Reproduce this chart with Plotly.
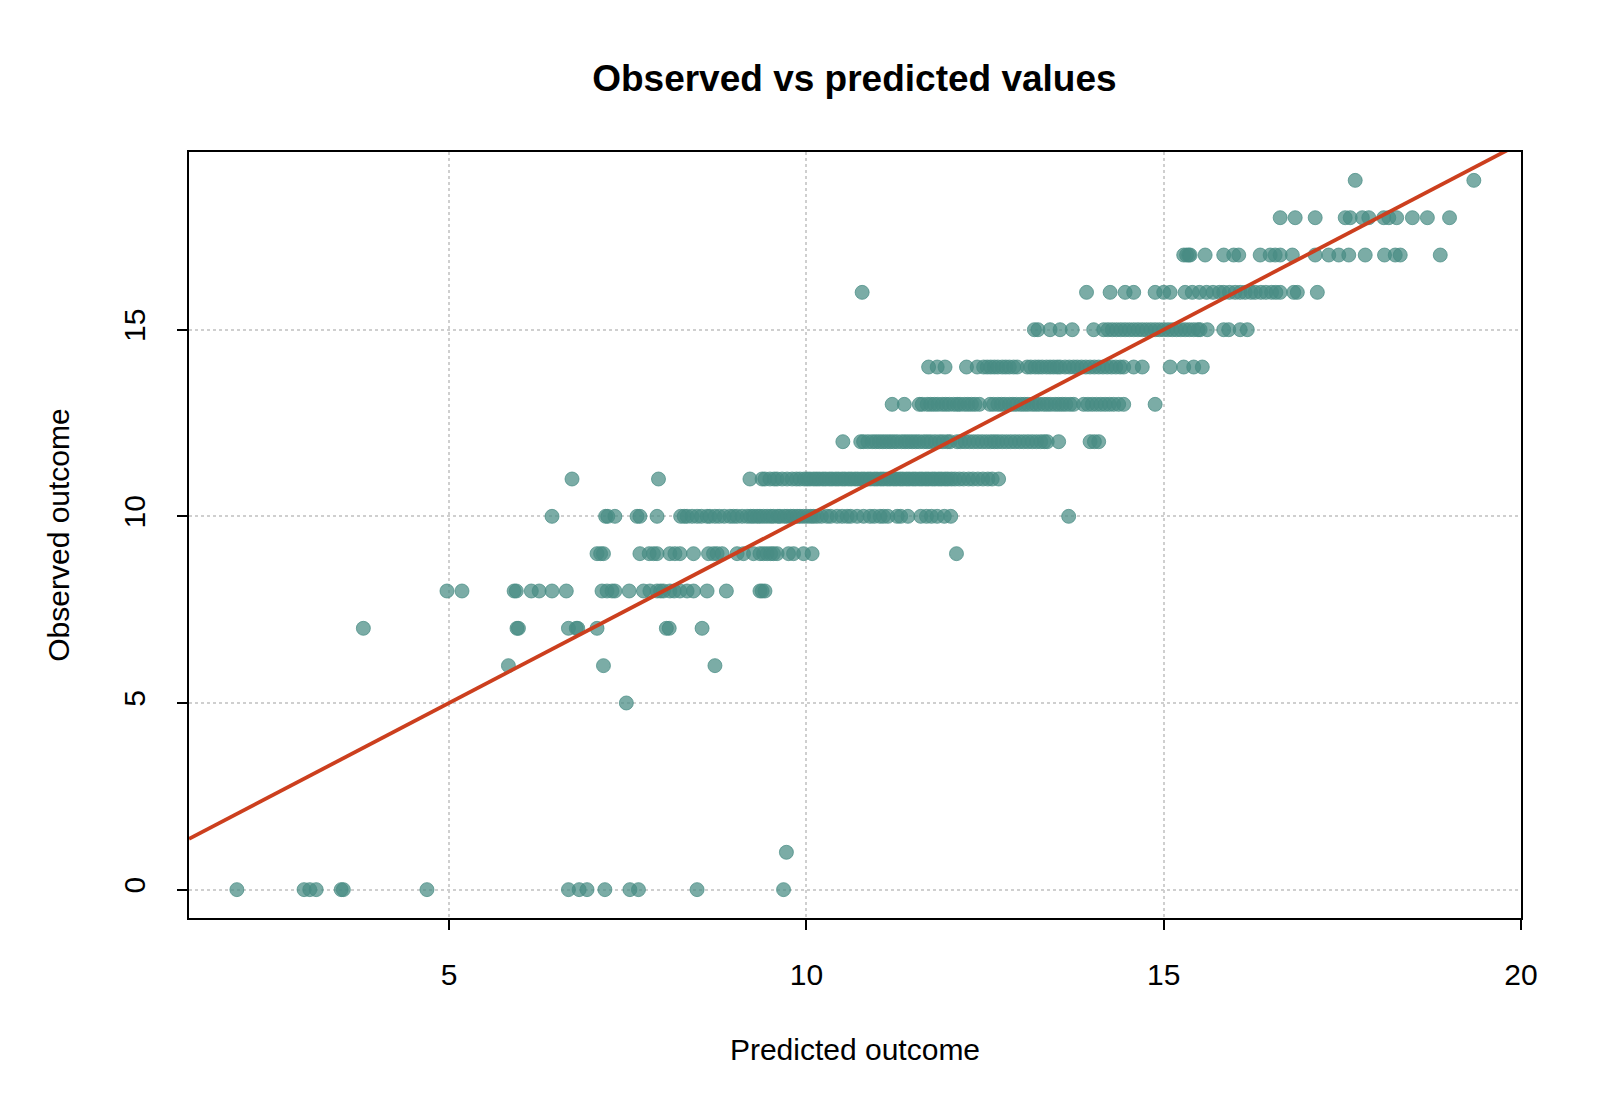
import plotly.graph_objects as go

# Predicted values grouped by observed outcome
pred_obs_0 = [2.03, 2.97, 3.05, 3.14, 3.49, 3.52, 4.69, 6.67, 6.82, 6.93, 7.18, 7.53, 7.65, 8.47, 9.68]
pred_obs_1 = [9.72]
pred_obs_5 = [7.48]
pred_obs_6 = [5.83, 7.16, 8.72]
pred_obs_7 = [3.80, 5.95, 5.97, 6.67, 6.78, 6.80, 7.07, 8.04, 8.08, 8.54]
pred_obs_8 = [4.97, 5.18, 5.91, 5.94, 6.15, 6.26, 6.44, 6.64, 7.14, 7.21, 7.28, 7.32, 7.52, 7.72,
              7.81, 7.91, 7.96, 8.00, 8.09, 8.15, 8.23, 8.33, 8.42, 8.61, 8.88, 9.35, 9.38, 9.42]
pred_obs_9 = [7.07, 7.12, 7.16, 7.67, 7.80, 7.86, 7.91, 8.09, 8.16, 8.23, 8.42, 8.63, 8.70, 8.75,
              8.82, 9.03, 9.12, 9.26, 9.35, 9.40, 9.45, 9.50, 9.54, 9.59, 9.75, 9.82, 9.96, 10.08, 12.10]
pred_obs_10 = [6.44, 7.19, 7.22, 7.32, 7.63, 7.67, 7.91, 8.24, 8.29, 8.33, 8.40, 8.47, 8.53, 8.61,
               8.65, 8.72, 8.78, 8.85, 8.93, 8.98, 9.03, 9.10, 9.17, 9.22, 9.26, 9.31, 9.35, 9.40,
               9.45, 9.50, 9.54, 9.60, 9.63, 9.69, 9.73, 9.78, 9.82, 9.87, 9.91, 9.96, 10.01, 10.06,
               10.10, 10.15, 10.21, 10.29, 10.34, 10.43, 10.50, 10.57, 10.62, 10.71, 10.80, 10.89,
               10.95, 11.03, 11.08, 11.14, 11.27, 11.32, 11.42, 11.60, 11.68, 11.75, 11.83, 11.93,
               12.02, 13.67]
pred_obs_11 = [6.72, 7.93, 9.21, 9.38, 9.42, 9.49, 9.55, 9.59, 9.66, 9.73, 9.80, 9.86, 9.91, 9.97,
               10.01, 10.05, 10.10, 10.14, 10.18, 10.23, 10.27, 10.32, 10.36, 10.41, 10.45, 10.50,
               10.54, 10.59, 10.63, 10.68, 10.72, 10.77, 10.81, 10.86, 10.90, 10.95, 10.99, 11.04,
               11.08, 11.13, 11.17, 11.22, 11.26, 11.31, 11.35, 11.40, 11.44, 11.49, 11.53, 11.58,
               11.62, 11.67, 11.71, 11.76, 11.80, 11.85, 11.89, 11.94, 11.98, 12.03, 12.08, 12.14,
               12.20, 12.27, 12.33, 12.40, 12.47, 12.54, 12.60, 12.69]
pred_obs_12 = [10.51, 10.76, 10.80, 10.86, 10.92, 10.97, 11.02, 11.07, 11.12, 11.17, 11.22, 11.27,
               11.33, 11.38, 11.43, 11.48, 11.53, 11.58, 11.64, 11.69, 11.74, 11.80, 11.86, 11.91,
               11.97, 12.01, 12.11, 12.16, 12.22, 12.28, 12.34, 12.40, 12.46, 12.52, 12.58, 12.63,
               12.68, 12.74, 12.80, 12.86, 12.92, 12.98, 13.04, 13.10, 13.16, 13.22, 13.28, 13.33,
               13.37, 13.53, 13.97, 14.03, 14.09]
pred_obs_13 = [11.20, 11.37, 11.58, 11.62, 11.69, 11.74, 11.79, 11.84, 11.90, 11.95, 12.00, 12.06,
               12.11, 12.15, 12.21, 12.26, 12.31, 12.36, 12.42, 12.57, 12.62, 12.68, 12.73, 12.78,
               12.84, 12.89, 12.94, 13.00, 13.05, 13.10, 13.16, 13.21, 13.26, 13.32, 13.37, 13.42,
               13.48, 13.53, 13.58, 13.63, 13.69, 13.74, 13.88, 13.94, 14.00, 14.06, 14.12, 14.18,
               14.24, 14.30, 14.37, 14.44, 14.88]
pred_obs_14 = [11.71, 11.83, 11.94, 12.24, 12.39, 12.48, 12.53, 12.58, 12.63, 12.68, 12.74, 12.79,
               12.84, 12.90, 12.95, 13.09, 13.14, 13.20, 13.25, 13.30, 13.36, 13.41, 13.46, 13.51,
               13.55, 13.62, 13.68, 13.74, 13.79, 13.85, 13.91, 13.97, 14.03, 14.09, 14.15, 14.21,
               14.27, 14.33, 14.39, 14.44, 14.58, 14.70, 15.09, 15.28, 15.42, 15.54]
pred_obs_15 = [13.19, 13.24, 13.41, 13.55, 13.72, 14.02, 14.16, 14.22, 14.28, 14.34, 14.40, 14.46,
               14.52, 14.58, 14.64, 14.70, 14.76, 14.82, 14.88, 14.94, 15.00, 15.06, 15.12, 15.18,
               15.24, 15.30, 15.36, 15.42, 15.48, 15.51, 15.61, 15.84, 15.91, 16.07, 16.17]
pred_obs_16 = [10.78, 13.92, 14.25, 14.46, 14.58, 14.88, 15.00, 15.09, 15.30, 15.40, 15.50, 15.60,
               15.69, 15.78, 15.84, 15.92, 16.00, 16.07, 16.14, 16.22, 16.28, 16.36, 16.43, 16.51,
               16.57, 16.63, 16.82, 16.87, 17.15]
pred_obs_17 = [15.28, 15.32, 15.35, 15.37, 15.58, 15.84, 15.98, 16.05, 16.35, 16.49, 16.56, 16.63,
               16.80, 17.12, 17.31, 17.45, 17.59, 17.82, 18.09, 18.24, 18.31, 18.87]
pred_obs_18 = [16.63, 16.84, 17.12, 17.54, 17.61, 17.78, 17.87, 18.08, 18.15, 18.26, 18.48, 18.69, 19.00]
pred_obs_19 = [17.68, 19.34]

groups = {
    0: pred_obs_0, 1: pred_obs_1, 5: pred_obs_5, 6: pred_obs_6, 7: pred_obs_7, 8: pred_obs_8,
    9: pred_obs_9, 10: pred_obs_10, 11: pred_obs_11, 12: pred_obs_12, 13: pred_obs_13,
    14: pred_obs_14, 15: pred_obs_15, 16: pred_obs_16, 17: pred_obs_17, 18: pred_obs_18,
    19: pred_obs_19,
}

x_ticks = [5, 10, 15, 20]
y_ticks = [0, 5, 10, 15]
x_range = [1.36, 20.0]
y_range = [-0.76, 19.76]
ref_line_x = [1.36, 20.0]  # identity line y = x

predicted = []
observed = []
for obs, preds in groups.items():
    predicted.extend(preds)
    observed.extend([obs] * len(preds))

FONT = "Liberation Sans, Arial, sans-serif"
pt_color = "rgba(72,140,132,0.72)"

fig = go.Figure()
fig.add_trace(go.Scatter(
    x=predicted, y=observed, mode="markers",
    marker=dict(size=14, color=pt_color, line=dict(width=1, color=pt_color)),
    showlegend=False, hoverinfo="x+y",
))
fig.add_trace(go.Scatter(
    x=ref_line_x, y=ref_line_x, mode="lines",
    line=dict(color="#CC3F1E", width=3.8), showlegend=False, hoverinfo="skip",
))

axis_common = dict(
    showline=True, linecolor="black", linewidth=2, mirror=True,
    ticks="outside", ticklen=10, tickwidth=2, tickcolor="black",
    showgrid=True, gridcolor="#CFCFCF", gridwidth=1.5, griddash="dot",
    zeroline=False, tickfont=dict(family=FONT, size=30, color="black"),
)

fig.update_layout(
    width=1600, height=1108,
    paper_bgcolor="white", plot_bgcolor="white",
    margin=dict(l=189, r=79, t=152, b=190),
    title=dict(text="<b>Observed vs predicted values</b>", x=0.534, xanchor="center",
               y=1 - 78 / 1108, yref="container", yanchor="middle",
               font=dict(family=FONT, size=37, color="black")),
    xaxis=dict(range=x_range, tickvals=x_ticks, ticktext=[str(v) for v in x_ticks],
               ticklabelstandoff=19,
               title=dict(text="Predicted outcome", font=dict(family=FONT, size=30, color="black"),
                          standoff=49),
               **axis_common),
    yaxis=dict(range=y_range, tickvals=y_ticks, ticktext=[str(v) for v in y_ticks],
               tickangle=-90, ticklabelstandoff=20,
               title=dict(text="Observed outcome", font=dict(family=FONT, size=30, color="black"),
                          standoff=40),
               **axis_common),
)

fig.write_html("out.html")
